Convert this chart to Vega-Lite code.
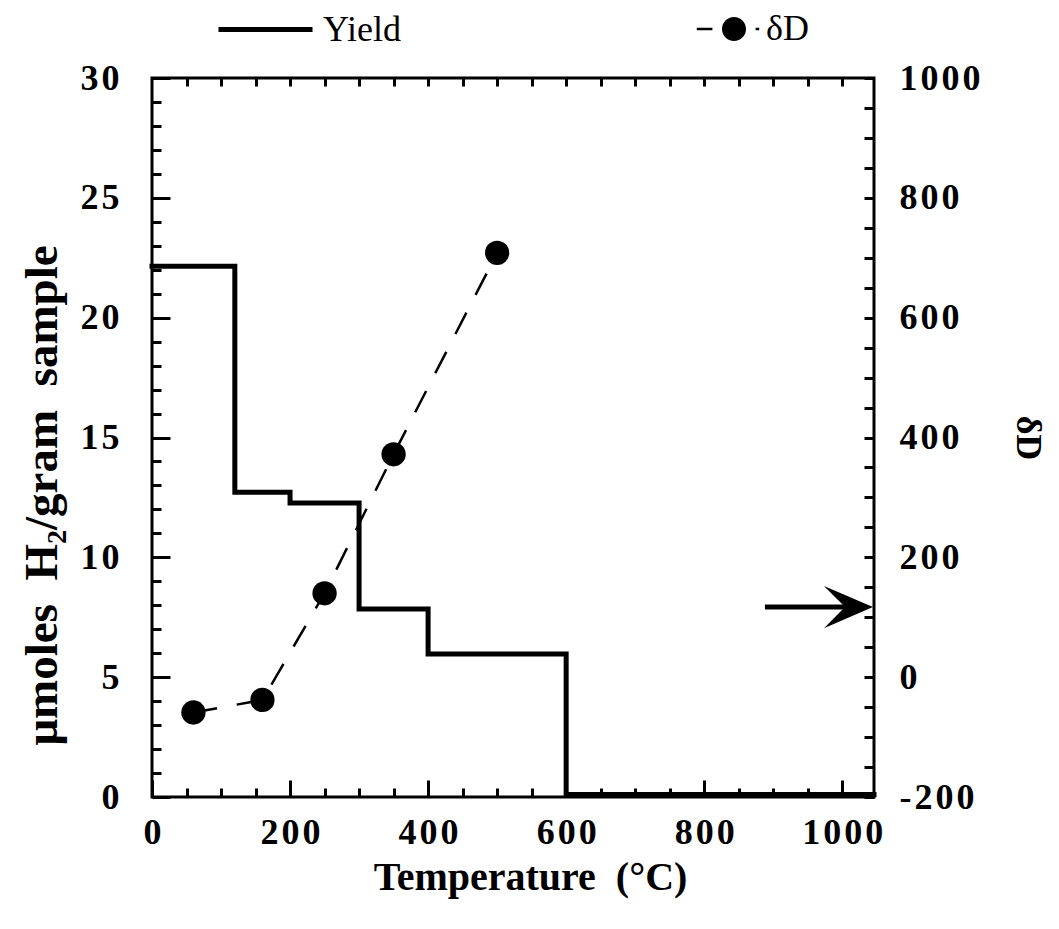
{
  "$schema": "https://vega.github.io/schema/vega-lite/v6.json",
  "width": 722,
  "height": 719,
  "autosize": "none",
  "padding": {"left": 152, "top": 78, "right": 185, "bottom": 132},
  "background": "white",
  "config": {
    "view": {"stroke": "black", "strokeWidth": 3},
    "font": "Liberation Serif",
    "axis": {
      "domain": false, "grid": false, "tickColor": "black", "tickWidth": 3,
      "labelFont": "Liberation Serif", "labelFontWeight": "bold", "labelFontSize": 36, "labelColor": "black",
      "labelFlush": false, "labelOverlap": false, "format": "d",
      "titleFont": "Liberation Serif", "titleFontWeight": "bold", "titleFontSize": 36, "titleColor": "black"
    },
    "legend": {"labelFont": "Liberation Serif", "labelFontSize": 36, "labelColor": "black", "padding": 0}
  },
  "datasets": {
    "yield": [
      {"temp": 0, "yield": 22.15},
      {"temp": 120, "yield": 12.72},
      {"temp": 200, "yield": 12.27},
      {"temp": 300, "yield": 7.84},
      {"temp": 400, "yield": 5.97},
      {"temp": 600, "yield": 0.1},
      {"temp": 1046, "yield": 0.1}
    ],
    "dD": [
      {"temp": 60, "dD": -59},
      {"temp": 160, "dD": -38},
      {"temp": 250, "dD": 140},
      {"temp": 350, "dD": 372},
      {"temp": 500, "dD": 708}
    ],
    "arrow": [
      {"start": 888, "end": 1012, "head": 1009, "dD": 117}
    ]
  },
  "resolve": {
    "scale": {"y": "independent"},
    "axis": {"x": "independent", "y": "independent"}
  },
  "layer": [
    {
      "data": {"name": "yield"},
      "mark": {"type": "line", "interpolate": "step-after", "strokeWidth": 5, "strokeCap": "square"},
      "encoding": {
        "x": {"field": "temp", "type": "quantitative",
          "scale": {"domain": [0, 1046], "nice": false, "zero": false},
          "axis": {"orient": "bottom", "values": [0, 200, 400, 600, 800, 1000], "tickSize": -17,
            "labelPadding": 35, "labelExpr": "replace(replace(datum.label, '−', '-'), regexp('(.)(?=.)', 'g'), '$1\u200a')",
            "title": "Temperature\u00a0\u00a0(°C)", "titleFontSize": 40, "titlePadding": 7, "titleX": 378}},
        "y": {"field": "yield", "type": "quantitative",
          "scale": {"domain": [0, 30], "nice": false, "zero": false},
          "axis": {"orient": "left", "values": [0, 5, 10, 15, 20, 25, 30], "tickSize": -18,
            "labelPadding": 51, "labelExpr": "replace(replace(datum.label, '−', '-'), regexp('(.)(?=.)', 'g'), '$1\u200a')",
            "title": "μmoles\u00a0\u00a0H₂/gram\u00a0\u00a0sample", "titleFontSize": 47, "titlePadding": 13, "titleY": 417}},
        "stroke": {"datum": "Yield", "type": "nominal", "scale": {"range": ["black"]},
          "legend": {"orient": "none", "legendX": 64, "legendY": -98, "title": null,
            "symbolType": "stroke", "symbolSize": 8836, "symbolStrokeWidth": 5, "symbolStrokeColor": "black",
            "labelOffset": 8}}
      }
    },
    {
      "data": {"name": "yield"},
      "mark": {"type": "point", "opacity": 0},
      "encoding": {
        "x": {"field": "temp", "type": "quantitative",
          "scale": {"domain": [0, 1046], "nice": false, "zero": false},
          "axis": {"orient": "bottom", "values": [50,100,150,250,300,350,450,500,550,650,700,750,850,900,950,1050], "tickSize": -9,
            "labels": false, "title": null}},
        "y": {"field": "yield", "type": "quantitative",
          "scale": {"domain": [0, 30], "nice": false, "zero": false},
          "axis": {"orient": "left", "values": [1,2,3,4,6,7,8,9,11,12,13,14,16,17,18,19,21,22,23,24,26,27,28,29], "tickSize": -9,
            "labels": false, "title": null}}
      }
    },
    {
      "data": {"name": "yield"},
      "mark": {"type": "point", "opacity": 0},
      "encoding": {
        "x": {"field": "temp", "type": "quantitative",
          "scale": {"domain": [0, 1046], "nice": false, "zero": false},
          "axis": {"orient": "top", "values": [50,100,150,200,250,300,350,400,450,500,550,600,650,700,750,800,850,900,950,1000], "tickSize": -8,
            "labels": false, "title": null}},
        "y": {"field": "yield", "type": "quantitative",
          "scale": {"domain": [0, 30], "nice": false, "zero": false}, "axis": null}
      }
    },
    {
      "data": {"name": "dD"},
      "mark": {"type": "line", "strokeWidth": 2.5, "strokeDash": [24, 20], "color": "black"},
      "encoding": {
        "x": {"field": "temp", "type": "quantitative",
          "scale": {"domain": [0, 1046], "nice": false, "zero": false}, "axis": null},
        "y": {"field": "dD", "type": "quantitative",
          "scale": {"domain": [-200, 1000], "nice": false, "zero": false},
          "axis": {"orient": "right", "values": [-200, 0, 200, 400, 600, 800, 1000], "tickSize": -10,
            "labelPadding": 35, "labelExpr": "replace(replace(datum.label, '−', '-'), regexp('(.)(?=.)', 'g'), '$1\u200a')",
            "title": "δD", "titleAngle": 90, "titlePadding": 28}}
      }
    },
    {
      "data": {"name": "dD"},
      "mark": {"type": "point", "filled": true, "size": 590, "opacity": 1, "strokeWidth": 0},
      "encoding": {
        "x": {"field": "temp", "type": "quantitative",
          "scale": {"domain": [0, 1046], "nice": false, "zero": false}, "axis": null},
        "y": {"field": "dD", "type": "quantitative",
          "scale": {"domain": [-200, 1000], "nice": false, "zero": false},
          "axis": {"orient": "right", "values": [-150,-100,-50,50,100,150,250,300,350,450,500,550,650,700,750,850,900,950], "tickSize": -10,
            "labels": false, "title": null}},
        "fill": {"datum": "δD", "type": "nominal", "scale": {"range": ["black"]},
          "legend": {"orient": "none", "legendX": 564, "legendY": -67, "title": null,
            "symbolType": "M-3.1,-0.1H-1.8V0.1H-3.1Z M-1,0A1,1,0,1,0,1,0A1,1,0,1,0,-1,0Z M1.8,-0.1H2.1V0.1H1.8Z",
            "symbolSize": 576, "symbolFillColor": "black", "symbolStrokeWidth": 0, "symbolOpacity": 1,
            "labelOffset": 14}}
      }
    },
    {
      "data": {"name": "arrow"},
      "mark": {"type": "rule", "strokeWidth": 5, "color": "black"},
      "encoding": {
        "x": {"field": "start", "type": "quantitative",
          "scale": {"domain": [0, 1046], "nice": false, "zero": false}, "axis": null},
        "x2": {"field": "end"},
        "y": {"field": "dD", "type": "quantitative",
          "scale": {"domain": [-200, 1000], "nice": false, "zero": false}, "axis": null}
      }
    },
    {
      "data": {"name": "arrow"},
      "mark": {"type": "point", "filled": true, "opacity": 1, "color": "black", "strokeWidth": 0, "size": 2401,
        "shape": "M1,0L-1,-0.86L-0.14,0L-1,0.86Z"},
      "encoding": {
        "x": {"field": "head", "type": "quantitative",
          "scale": {"domain": [0, 1046], "nice": false, "zero": false}, "axis": null},
        "y": {"field": "dD", "type": "quantitative",
          "scale": {"domain": [-200, 1000], "nice": false, "zero": false}, "axis": null}
      }
    }
  ]
}
